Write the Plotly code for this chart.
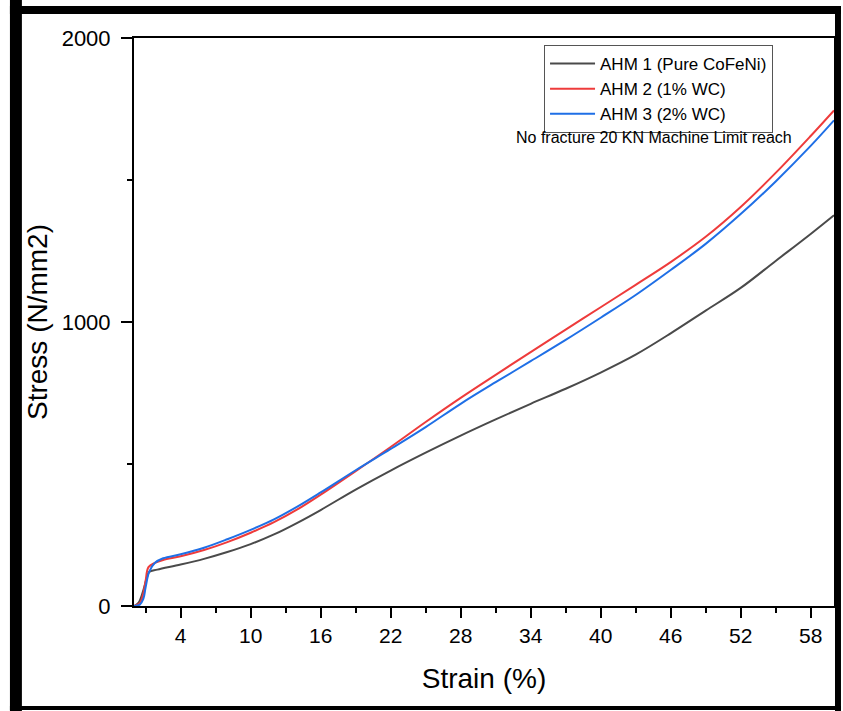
import plotly.graph_objects as go

# ---- data ----
strain_ahm1 = [0, 0.4, 0.8, 1.1, 1.3, 2, 4, 6, 8, 10, 12, 14, 16, 19, 22, 25, 28, 31, 34, 37,
               40, 43, 46, 49, 52, 55, 58, 60]
stress_ahm1 = [0, 12, 55, 100, 120, 128, 146, 166, 190, 218, 252, 293, 338, 410, 477, 540, 600,
               657, 712, 765, 822, 885, 960, 1040, 1120, 1215, 1310, 1376]

strain_ahm2 = [0, 0.5, 0.8, 1.0, 1.24, 1.8, 2.5, 4, 6, 8, 10, 12, 14, 16, 19, 22, 25, 28, 31, 34,
               37, 40, 43, 46, 49, 52, 55, 58, 60]
stress_ahm2 = [0, 10, 45, 90, 137, 152, 162, 175, 197, 225, 258, 295, 340, 392, 475, 560, 648, 733,
               814, 894, 973, 1052, 1131, 1211, 1300, 1405, 1525, 1655, 1745]

strain_ahm3 = [0, 0.5, 0.8, 1.0, 1.3, 1.8, 2.5, 4, 6, 8, 10, 12, 14, 16, 19, 22, 25, 28, 31, 34,
               37, 40, 43, 46, 49, 52, 55, 58, 60]
stress_ahm3 = [0, 5, 25, 67, 120, 152, 168, 182, 205, 235, 268, 305, 350, 400, 478, 553, 630, 712,
               788, 862, 937, 1015, 1095, 1183, 1275, 1380, 1495, 1620, 1710]

series_names = ["AHM 1 (Pure CoFeNi)", "AHM 2 (1% WC)", "AHM 3 (2% WC)"]
series_colors = ["#4a4a4a", "#ee3b3b", "#1f6fe6"]

x_tickvals = [4, 10, 16, 22, 28, 34, 40, 46, 52, 58]
x_minor = [1, 7, 13, 19, 25, 31, 37, 43, 49, 55]
y_tickvals = [0, 1000, 2000]
y_minor = [500, 1500]

note_text = "No fracture 20 KN Machine Limit reach"

# ---- figure ----
W, H = 843, 711
L, R, T, B = 133.5, 7, 38, 105
pw, ph = W - L - R, H - T - B

fig = go.Figure()
for sx, sy, name, col in zip([strain_ahm1, strain_ahm2, strain_ahm3],
                             [stress_ahm1, stress_ahm2, stress_ahm3],
                             series_names, series_colors):
    fig.add_trace(go.Scatter(x=sx, y=sy, mode="lines", name=name,
                             line=dict(color=col, width=2, shape="spline", smoothing=1.0),
                             cliponaxis=True))

font_family = "Liberation Sans, Arial, sans-serif"

fig.update_layout(
    width=W, height=H,
    margin=dict(l=L, r=R, t=T, b=B, pad=0),
    paper_bgcolor="white", plot_bgcolor="white",
    font=dict(family=font_family, color="black"),
    showlegend=True,
    legend=dict(x=(545 - L) / pw, y=(606 - 45) / ph, xanchor="left", yanchor="top",
                bgcolor="white", bordercolor="#555555", borderwidth=1,
                font=dict(size=17, family=font_family, color="black"),
                itemwidth=45, tracegroupgap=0),
    xaxis=dict(range=[0, 60], tickvals=x_tickvals, ticks="outside", ticklen=10, tickwidth=2,
               tickcolor="black", showline=True, linecolor="black", linewidth=2, mirror=True,
               showgrid=False, zeroline=False,
               minor=dict(tickvals=x_minor, ticks="outside", ticklen=5, tickwidth=2, tickcolor="black"),
               tickfont=dict(size=21, family=font_family),
               title=dict(text="Strain (%)", font=dict(size=28, family=font_family), standoff=22)),
    yaxis=dict(range=[0, 2000], tickvals=y_tickvals, ticks="outside", ticklen=11, tickwidth=2,
               tickcolor="black", showline=True, linecolor="black", linewidth=2, mirror=True,
               showgrid=False, zeroline=False,
               minor=dict(tickvals=y_minor, ticks="outside", ticklen=5, tickwidth=2, tickcolor="black"),
               tickfont=dict(size=22, family=font_family), ticklabelstandoff=6,
               title=dict(text="Stress (N/mm2)", font=dict(size=28, family=font_family), standoff=6)),
)

fig.add_annotation(text=note_text, xref="paper", yref="paper",
                   x=(655 - L) / pw, y=(606 - 137) / ph, xanchor="center", yanchor="middle",
                   showarrow=False, font=dict(size=16, family=font_family, color="black"))


# outer black frame bands (decoration)
def px2x(px):
    return (px - L) / pw


def py2y(py):
    return (H - B - py) / ph


bands = [(9, 0, 21, 711), (9, 6, 843, 14), (837, 6, 843, 711), (9, 706, 843, 710)]
for x0, y0, x1, y1 in bands:
    fig.add_shape(type="rect", xref="paper", yref="paper",
                  x0=px2x(x0), x1=px2x(x1), y0=py2y(y1), y1=py2y(y0),
                  fillcolor="black", line=dict(width=0), layer="above")

fig.write_html("out.html")
